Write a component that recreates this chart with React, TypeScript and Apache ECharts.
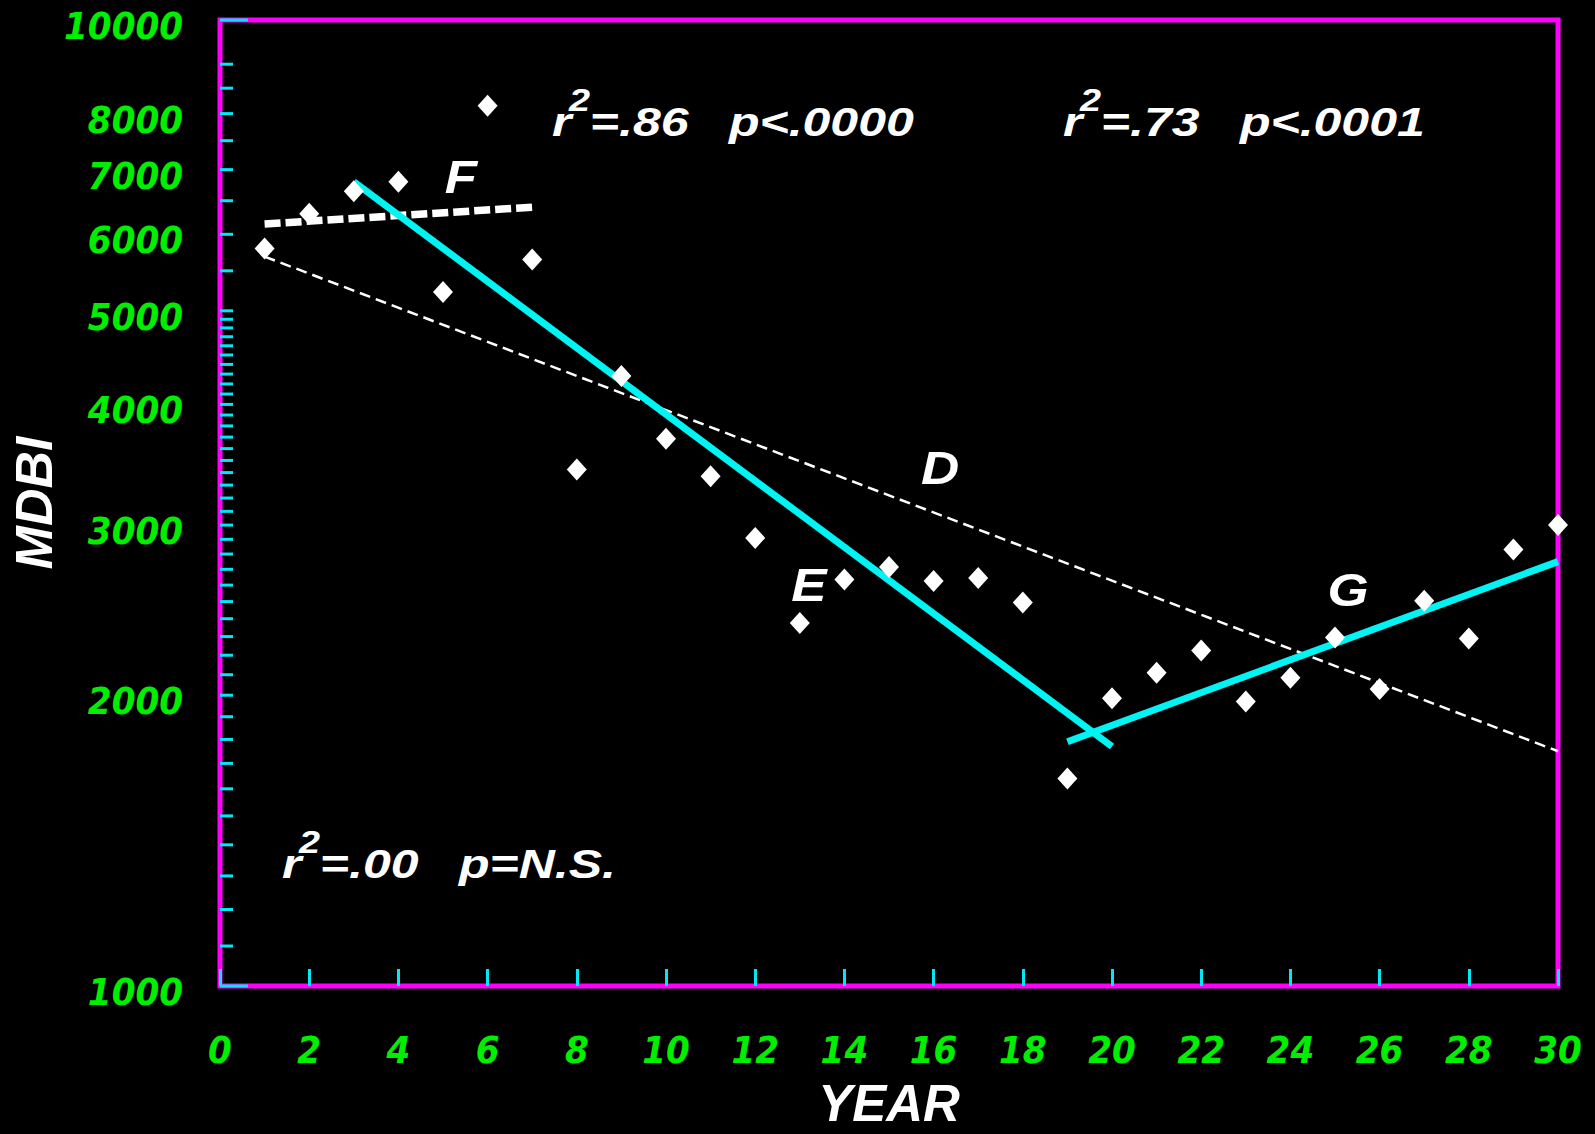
import React, { useEffect, useRef } from "react";
import * as echarts from "echarts";

// ---- data ----
const years = [1, 2, 3, 4, 5, 6, 7, 8, 9, 10, 11, 12, 13, 14, 15, 16, 17, 18, 19, 20, 21, 22, 23, 24, 25, 26, 27, 28, 29, 30];
const mdbi = [5800, 6300, 6650, 6800, 5230, 8150, 5650, 3425, 4280, 3685, 3370, 2910, 2375, 2635, 2715, 2625, 2645, 2495, 1640, 1985, 2110, 2225, 1970, 2085, 2295, 2030, 2505, 2290, 2830, 3000];

// regression line end points [year, MDBI]
const lineD = [[1, 5690], [30, 1750]];
const lineE = [[3, 6800], [20, 1770]];
const lineF = [[1, 6150], [7, 6400]];
const lineG = [[19, 1790], [30, 2750]];

// y axis tick marks and labels
const yLongTicks = [1000, 10000];
const yTicks = [
  1100, 1200, 1300, 1400, 1500, 1600, 1700, 1800, 1900, 2000,
  2100, 2200, 2300, 2400, 2500, 2600, 2700, 2800, 2900, 3000,
  3100, 3200, 3300, 3400, 3500, 3600, 3700, 3800, 3900, 4000,
  4100, 4200, 4300, 4400, 4500, 4600, 4700, 4800, 4900, 5000,
  5500, 6000, 6500, 7000, 7500, 8000, 8500, 9000,
];
const yLabels = [1000, 2000, 3000, 4000, 5000, 6000, 7000, 8000, 10000];

// statistics annotations
const statR2 = ["=.86", "=.73", "=.00"];
const statP = ["p<.0000", "p<.0001", "p=N.S."];
const statPos = [
  { x: 552, y: 122 },
  { x: 1063, y: 122 },
  { x: 282, y: 864 },
];
const letters = [
  { t: "F", x: 461, y: 177 },
  { t: "D", x: 940, y: 468 },
  { t: "E", x: 809, y: 585 },
  { t: "G", x: 1348, y: 590 },
];

const MAGENTA = "#ff00ff";
const CYAN = "#00e8f8";
const LINE_CYAN = "#00f4f4";
const GREEN = "#00ee00";
const NARROW = "'DejaVu Sans Condensed', 'Liberation Sans Narrow', 'Liberation Sans', sans-serif";
const SANS = "'Liberation Sans', Arial, sans-serif";

export default function App() {
  const ref = useRef<HTMLDivElement>(null);

  useEffect(() => {
    if (!ref.current) return;
    document.body.style.background = "#000";
    const chart = echarts.init(ref.current, undefined, { renderer: "svg" });

    const w = {
      fontFamily: SANS,
      fontWeight: "bold" as const,
      fontStyle: "italic" as const,
      fill: "#ffffff",
      verticalAlign: "middle" as const,
      align: "left" as const,
    };

    const graphics: any[] = [];
    statPos.forEach((pos, i) => {
      graphics.push({
        type: "group",
        x: pos.x,
        y: pos.y,
        scaleX: 1.22,
        z: 100,
        children: [
          { type: "text", x: 0, y: 0, style: { ...w, text: "r", fontSize: 41 } },
          { type: "text", x: 14, y: -22, style: { ...w, text: "2", fontSize: 31 } },
          { type: "text", x: 31, y: 0, style: { ...w, text: statR2[i], fontSize: 41 } },
          { type: "text", x: 145, y: 0, style: { ...w, text: statP[i], fontSize: 41 } },
        ],
      });
    });
    letters.forEach((l) => {
      graphics.push({
        type: "text",
        x: l.x,
        y: l.y,
        scaleX: 1.15,
        z: 100,
        style: { ...w, text: l.t, fontSize: 46, align: "center" },
      });
    });

    const option: any = {
      animation: false,
      backgroundColor: "#000000",
      grid: {
        left: 220,
        right: 37,
        top: 20,
        bottom: 147,
        show: true,
        borderColor: MAGENTA,
        borderWidth: 5,
        backgroundColor: "transparent",
      },
      xAxis: {
        type: "value",
        min: 0,
        max: 30,
        interval: 2,
        axisLine: { show: false },
        splitLine: { show: false },
        axisTick: { show: true, inside: true, length: 17, lineStyle: { color: CYAN, width: 3 } },
        axisLabel: {
          color: GREEN,
          fontFamily: NARROW,
          fontWeight: "bold",
          fontStyle: "italic",
          fontSize: 38,
          margin: 45,
        },
        name: "YEAR",
        nameLocation: "middle",
        nameGap: 92,
        nameTextStyle: {
          color: "#ffffff",
          fontFamily: SANS,
          fontWeight: "bold",
          fontStyle: "italic",
          fontSize: 51,
        },
      },
      yAxis: {
        type: "log",
        logBase: 10,
        min: 1000,
        max: 10000,
        axisLine: { show: false },
        axisTick: { show: false },
        axisLabel: { show: false },
        splitLine: { show: false },
        name: "MDBI",
        nameLocation: "middle",
        nameGap: 160,
        nameTextStyle: {
          color: "#ffffff",
          fontFamily: SANS,
          fontWeight: "bold",
          fontStyle: "italic",
          fontSize: 52,
        },
      },
      graphic: graphics,
      series: [
        {
          type: "line",
          data: lineD,
          symbol: "none",
          z: 3,
          lineStyle: { color: "#ffffff", width: 2.5, type: [11, 6] },
        },
        {
          type: "line",
          data: lineF,
          symbol: "none",
          z: 3,
          lineStyle: { color: "#ffffff", width: 7.5, type: [16, 5] },
        },
        {
          type: "line",
          data: lineE,
          symbol: "none",
          z: 3,
          lineStyle: { color: LINE_CYAN, width: 7 },
        },
        {
          type: "line",
          data: lineG,
          symbol: "none",
          z: 3,
          lineStyle: { color: LINE_CYAN, width: 7 },
        },
        {
          type: "scatter",
          data: years.map((yr, i) => [yr, mdbi[i]]),
          symbol: "diamond",
          symbolSize: [20, 22],
          itemStyle: { color: "#ffffff", opacity: 1 },
          z: 4,
        },
        {
          type: "custom",
          coordinateSystem: "cartesian2d",
          clip: false,
          silent: true,
          z: 6,
          data: [...yTicks.map((v) => [0, v, 13]), ...yLongTicks.map((v) => [0, v, 28])],
          renderItem: (params: any, api: any) => {
            const p = api.coord([api.value(0), api.value(1)]);
            const len = api.value(2);
            return {
              type: "line",
              shape: { x1: p[0], y1: p[1], x2: p[0] + len, y2: p[1] },
              style: { stroke: CYAN, lineWidth: 3 },
            };
          },
        },
        {
          type: "custom",
          coordinateSystem: "cartesian2d",
          clip: false,
          silent: true,
          z: 6,
          data: yLabels.map((v) => [0, v]),
          renderItem: (params: any, api: any) => {
            const p = api.coord([api.value(0), api.value(1)]);
            return {
              type: "text",
              x: p[0] - 37,
              y: p[1] + 6,
              style: {
                text: String(api.value(1)),
                align: "right",
                verticalAlign: "middle",
                fill: GREEN,
                fontFamily: NARROW,
                fontWeight: "bold",
                fontStyle: "italic",
                fontSize: 38,
              },
            };
          },
        },
      ],
    };

    chart.setOption(option);
    return () => {
      chart.dispose();
    };
  }, []);

  return (
    <div
      ref={ref}
      style={{ position: "fixed", left: 0, top: 0, width: 1595, height: 1134, background: "#000" }}
    />
  );
}
